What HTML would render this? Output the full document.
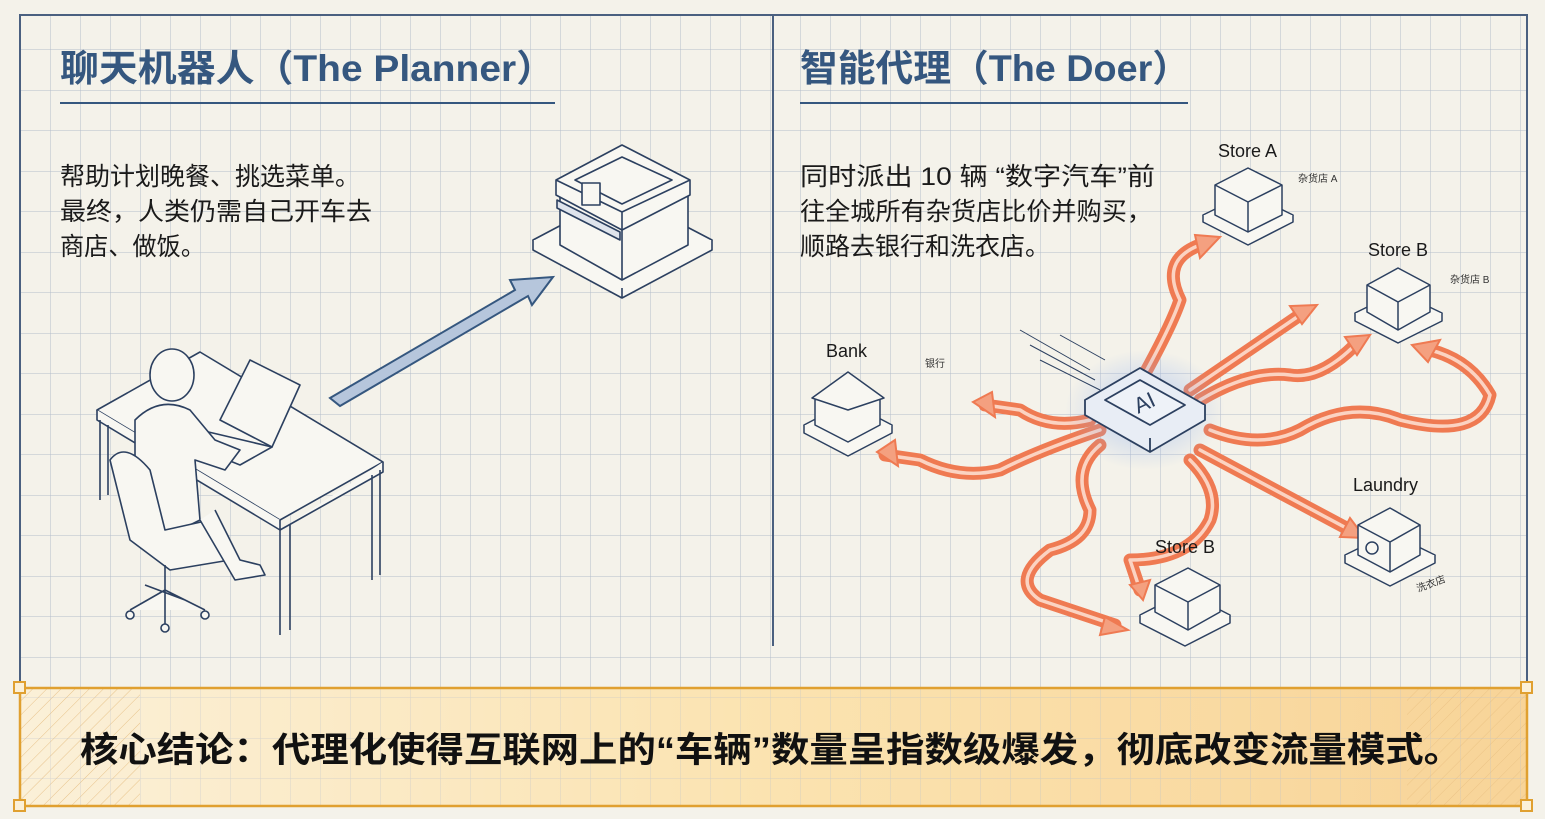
<!DOCTYPE html>
<html><head><meta charset="utf-8"><style>
html,body{margin:0;padding:0;background:#f4f2ea;}
svg{display:block}
text{font-family:"Liberation Sans","Noto Sans CJK SC",sans-serif;}
</style></head><body>
<svg width="1545" height="819" viewBox="0 0 1545 819" xmlns="http://www.w3.org/2000/svg">
<defs>
<pattern id="g" x="20" y="9" width="30" height="40.5" patternUnits="userSpaceOnUse">
<path d="M0 0V40.5M0 0H30" stroke="#b4bdcb" stroke-width="1" fill="none"/>
</pattern>
<linearGradient id="ban" x1="0" x2="1" y1="0" y2="0">
<stop offset="0" stop-color="#fbf0d8"/><stop offset="0.5" stop-color="#fbe3b0"/><stop offset="1" stop-color="#f8d498"/>
</linearGradient>
<pattern id="hatch" width="10" height="10" patternUnits="userSpaceOnUse" patternTransform="rotate(45)">
<path d="M0 0V10" stroke="#e3b878" stroke-width="1"/>
</pattern>
<radialGradient id="glow"><stop offset="0" stop-color="#8fb0f0" stop-opacity="0.6"/><stop offset="1" stop-color="#8fb0f0" stop-opacity="0"/></radialGradient>
</defs>
<rect width="1545" height="819" fill="#f4f2ea"/>
<rect x="20" y="15" width="1507" height="672" fill="url(#g)"/>
<rect x="20" y="15" width="1507" height="790" fill="none" stroke="#4a6080" stroke-width="2"/>
<line x1="773" y1="15" x2="773" y2="646" stroke="#4a6080" stroke-width="2"/>

<!-- titles -->
<text x="60" y="81" font-size="37" font-weight="bold" fill="#35577f" textLength="495" lengthAdjust="spacingAndGlyphs">聊天机器人（The Planner）</text>
<line x1="60" y1="103" x2="555" y2="103" stroke="#35577f" stroke-width="2"/>
<text x="800" y="81" font-size="37" font-weight="bold" fill="#35577f" textLength="390" lengthAdjust="spacingAndGlyphs">智能代理（The Doer）</text>
<line x1="800" y1="103" x2="1188" y2="103" stroke="#35577f" stroke-width="2"/>

<g font-size="25" fill="#1a1a1a">
<text x="60" y="185" textLength="300" lengthAdjust="spacingAndGlyphs">帮助计划晚餐、挑选菜单。</text>
<text x="60" y="220" textLength="312" lengthAdjust="spacingAndGlyphs">最终，人类仍需自己开车去</text>
<text x="60" y="255" textLength="145" lengthAdjust="spacingAndGlyphs">商店、做饭。</text>
<text x="800" y="185" textLength="355" lengthAdjust="spacingAndGlyphs">同时派出 10 辆 “数字汽车”前</text>
<text x="800" y="220" textLength="352" lengthAdjust="spacingAndGlyphs">往全城所有杂货店比价并购买，</text>
<text x="800" y="255" textLength="250" lengthAdjust="spacingAndGlyphs">顺路去银行和洗衣店。</text>
</g>

<!-- left desk scene -->
<g fill="#f8f7f2" stroke="#2c4060" stroke-width="1.6" stroke-linejoin="round">
<path d="M97 410L200 352L383 462L280 520Z"/>
<path d="M97 410V420L280 530V520M280 530L383 472V462"/>
<path d="M100 420V500M108 425V495M280 530V635M290 525V630M372 475V580M380 470V575"/>
<path d="M220 420L250 360L300 385L272 447Z"/>
<path d="M200 430L272 447L240 465L178 440Z"/>
<ellipse cx="172" cy="375" rx="22" ry="26"/>
<path d="M135 420Q160 395 190 410L215 440L240 450L225 470L195 460L200 520L160 540L135 500Z"/>
<path d="M110 460Q125 440 150 470L165 530L210 520L230 560L170 570L130 540Z"/>
<path d="M200 520L235 580L265 575L260 565L240 560L215 510"/>
<path d="M165 565V590M130 610L165 590L205 610M165 590L165 625M145 585L185 600"/>
<circle cx="130" cy="615" r="4"/><circle cx="205" cy="615" r="4"/><circle cx="165" cy="628" r="4"/>
</g>
<polygon points="330,398 515,290 510,280 553,277 532,305 528,296 340,406" fill="#b6c6dc" stroke="#35577f" stroke-width="2"/>
<g fill="#f8f7f2" stroke="#2c4060" stroke-width="1.6" stroke-linejoin="round">
<path d="M533 240L622 193L712 240L622 288Z"/><path d="M533 240V250L622 298L712 250V240M622 288V298"/>
<path d="M560 195L622 160L688 195V245L622 280L560 245Z"/>
<path d="M560 195L622 225L688 195M622 225V280"/>
<path d="M556 180L622 145L690 180V195L622 230L556 195Z"/><path d="M556 180L622 212L690 180M622 212V230"/>
<path d="M575 180L622 157L672 180L622 204Z"/>
<rect x="582" y="183" width="18" height="22"/>
<path d="M557 200L620 232V240L557 208Z" fill="#dfe4ec"/>
</g>

<!-- right: arrows -->
<g fill="none" stroke-linecap="round" stroke-linejoin="round">
<g stroke="#ef7a52" stroke-width="13">
<path d="M1130 400Q1170 330 1180 300Q1160 260 1200 245"/>
<path d="M1190 390L1300 315"/>
<path d="M1200 400Q1250 370 1290 375Q1320 380 1355 345"/>
<path d="M1210 430Q1260 450 1300 430Q1350 400 1400 420Q1480 440 1490 395Q1470 360 1430 350"/>
<path d="M1200 450L1350 530"/>
<path d="M1190 460Q1220 490 1210 520Q1190 560 1130 560L1140 590"/>
<path d="M1100 445Q1070 470 1090 510Q1090 540 1050 550Q1010 580 1040 600L1115 625"/>
<path d="M1100 430Q1040 450 1000 470Q960 480 920 460L885 455"/>
<path d="M1090 420Q1050 430 1020 410L985 405"/>
</g>
<g stroke="#fbd3c2" stroke-width="3.5">
<path d="M1130 400Q1170 330 1180 300Q1160 260 1200 245"/>
<path d="M1190 390L1300 315"/>
<path d="M1200 400Q1250 370 1290 375Q1320 380 1355 345"/>
<path d="M1210 430Q1260 450 1300 430Q1350 400 1400 420Q1480 440 1490 395Q1470 360 1430 350"/>
<path d="M1200 450L1350 530"/>
<path d="M1190 460Q1220 490 1210 520Q1190 560 1130 560L1140 590"/>
<path d="M1100 445Q1070 470 1090 510Q1090 540 1050 550Q1010 580 1040 600L1115 625"/>
<path d="M1100 430Q1040 450 1000 470Q960 480 920 460L885 455"/>
<path d="M1090 420Q1050 430 1020 410L985 405"/>
</g>
</g>
<g fill="#f4a080" stroke="#ef7a52" stroke-width="2">
<polygon points="1220,237 1195,235 1200,258"/>
<polygon points="1317,305 1290,306 1302,324"/>
<polygon points="1370,335 1345,337 1357,355"/>
<polygon points="1412,345 1440,340 1428,362"/>
<polygon points="1365,538 1340,537 1350,518"/>
<polygon points="1143,600 1130,585 1150,580"/>
<polygon points="1128,630 1105,617 1100,635"/>
<polygon points="877,452 895,440 898,466"/>
<polygon points="973,402 992,392 995,417"/>
</g>
<ellipse cx="1145" cy="410" rx="80" ry="60" fill="url(#glow)"/>
<g stroke="#2c4060" stroke-width="1" fill="none">
<path d="M1020 330L1090 370M1030 345L1095 380M1040 360L1100 390M1060 335L1105 360"/>
</g>
<g stroke="#2c4060" stroke-width="1.8" fill="#e8edf5" stroke-linejoin="round">
<path d="M1085 400L1140 368L1205 405L1150 438Z"/>
<path d="M1085 400V415L1150 452L1205 420V405M1150 438V452"/>
<path d="M1105 400L1140 380L1185 405L1150 425Z" fill="#eef2f8"/>
</g>
<text x="1145" y="410" font-size="22" fill="#2c4060" text-anchor="middle" transform="rotate(-25 1145 404)">AI</text>

<g fill="#f8f7f2" stroke="#2c4060" stroke-width="1.5" stroke-linejoin="round">
<path d="M1203 215L1248 193L1293 215L1248 238Z"/><path d="M1203 215V222L1248 245L1293 222V215"/>
<path d="M1215 185L1248 168L1282 185V215L1248 232L1215 215Z"/><path d="M1215 185L1248 202L1282 185M1248 202V232"/>
<path d="M1355 313L1398 292L1442 313L1398 336Z"/><path d="M1355 313V321L1398 343L1442 321V313"/>
<path d="M1367 285L1398 268L1430 285V312L1398 330L1367 312Z"/><path d="M1367 285L1398 302L1430 285M1398 302V330"/>
<path d="M804 425L848 402L892 425L848 448Z"/><path d="M804 425V433L848 456L892 433V425"/>
<path d="M815 400L848 383L880 400V425L848 442L815 425Z"/><path d="M812 398L848 372L884 398L848 410Z"/>
<path d="M1140 615L1185 592L1230 615L1185 638Z"/><path d="M1140 615V623L1185 646L1230 623V615"/>
<path d="M1155 585L1188 568L1220 585V612L1188 630L1155 612Z"/><path d="M1155 585L1188 602L1220 585M1188 602V630"/>
<path d="M1345 555L1390 533L1435 555L1390 578Z"/><path d="M1345 555V563L1390 586L1435 563V555"/>
<path d="M1358 525L1390 508L1420 525V555L1390 572L1358 555Z"/><path d="M1358 525L1390 542L1420 525M1390 542V572"/>
<circle cx="1372" cy="548" r="6"/>
</g>
<g font-size="18" fill="#1a1a1a">
<text x="1218" y="157">Store A</text>
<text x="1368" y="256">Store B</text>
<text x="826" y="357">Bank</text>
<text x="1155" y="553">Store B</text>
<text x="1353" y="491">Laundry</text>
</g>
<g font-size="10" fill="#333">
<text x="1298" y="182">杂货店 A</text>
<text x="1450" y="283">杂货店 B</text>
<text x="925" y="367">银行</text>
<text x="1418" y="592" transform="rotate(-20 1418 592)">洗衣店</text>
</g>

<!-- banner -->
<rect x="20" y="688" width="1507" height="118" fill="url(#ban)"/>
<rect x="20" y="688" width="120" height="118" fill="url(#hatch)" opacity="0.8"/>
<rect x="1407" y="688" width="120" height="118" fill="url(#hatch)" opacity="0.6"/>
<rect x="20" y="688" width="1507" height="118" fill="url(#g)" opacity="0.5"/>
<rect x="20" y="688" width="1507" height="118" fill="none" stroke="#e0a030" stroke-width="2.5"/>
<g fill="#fbf0d8" stroke="#e0a030" stroke-width="2">
<rect x="14" y="682" width="11" height="11"/><rect x="1521" y="682" width="11" height="11"/>
<rect x="14" y="800" width="11" height="11"/><rect x="1521" y="800" width="11" height="11"/>
</g>
<text x="80" y="762" font-size="35" font-weight="bold" fill="#111" textLength="1382" lengthAdjust="spacingAndGlyphs">核心结论：代理化使得互联网上的“车辆”数量呈指数级爆发，彻底改变流量模式。</text>
</svg>
</body></html>
